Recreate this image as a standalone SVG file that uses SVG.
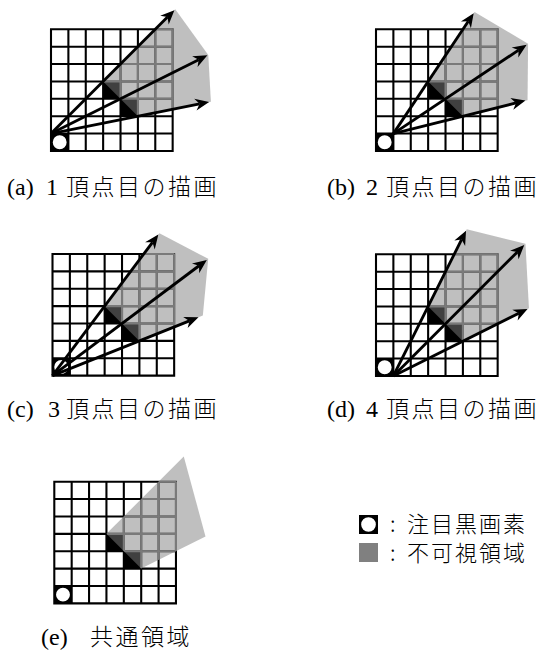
<svg xmlns="http://www.w3.org/2000/svg" xmlns:xlink="http://www.w3.org/1999/xlink" width="540" height="651" viewBox="0 0 540 651">
<style>
.cell{fill:#fff}
.grid{fill:none;stroke:#000;stroke-width:0.12;stroke-linecap:square}
.gridin{fill:none;stroke:#7a7a7a;stroke-width:0.12}
.blk{fill:#000}
.shadow{fill:#808080;fill-opacity:0.5}
.pix{fill:#fff;stroke:#000;stroke-width:0.1}
.arr{fill:none;stroke:#000;stroke-width:0.165;marker-end:url(#ah)}
.lbl{font-family:"Liberation Serif",serif;font-size:24px;fill:#000}
.jp{font-family:"Noto Sans CJK JP","Noto Sans",sans-serif;font-size:23px;font-weight:300;letter-spacing:2.5px}
.leg{font-family:"Noto Sans CJK JP","Noto Sans",sans-serif;font-size:22px;font-weight:300;fill:#000;letter-spacing:2px}
</style>
<defs>
<marker id="ah" markerUnits="strokeWidth" orient="auto" overflow="visible" refX="0" refY="0" markerWidth="1" markerHeight="1">
<path d="M3.4,0 L-1.5,-2.1 L0,0 L-1.5,2.1 Z" fill="#000"/>
</marker>
<path id="gp" d="M0,0V7M1,0V7M2,0V7M3,0V7M4,0V7M5,0V7M6,0V7M7,0V7M0,0H7M0,1H7M0,2H7M0,3H7M0,4H7M0,5H7M0,6H7M0,7H7"/>
<g id="base">
<rect class="cell" x="0" y="0" width="7" height="7"/>
<rect class="blk" x="3" y="3" width="1" height="1"/>
<rect class="blk" x="4" y="4" width="1" height="1"/>
<use xlink:href="#gp" class="grid"/>
</g>
<g id="pixel">
<rect class="blk" x="0" y="6" width="1" height="1"/>
<circle class="pix" cx="0.5" cy="6.5" r="0.45"/>
</g>
<polygon id="pa" points="3,3 7.15,-1.15 9.05,1.48 9.2,4.17 5,5"/>
<polygon id="pb" points="3,3 5.67,-1.0 8.75,0.83 8.72,4.08 5,5"/>
<polygon id="pc" points="3,3 6.15,-1.2 8.96,0.28 8.65,3.54 5,5"/>
<polygon id="pd" points="3,3 5.22,-1.44 8.6,-0.6 8.8,3.1 5,5"/>
<polygon id="pe" points="3,3 7.45,-1.45 8.7,3.15 5,5"/>
<clipPath id="ca"><use xlink:href="#pa"/></clipPath>
<clipPath id="cb"><use xlink:href="#pb"/></clipPath>
<clipPath id="cc"><use xlink:href="#pc"/></clipPath>
<clipPath id="cd"><use xlink:href="#pd"/></clipPath>
<clipPath id="ce"><use xlink:href="#pe"/></clipPath>
</defs>

<g id="panel-a" transform="translate(51,29.3) scale(17.38)">
<use xlink:href="#base"/>
<use xlink:href="#pa" class="shadow"/>
<use xlink:href="#gp" class="gridin" clip-path="url(#ca)"/>
<use xlink:href="#pixel"/>
<g id="arrows-a">
<path class="arr" d="M0,6 L6.703,-0.703"/>
<path class="arr" d="M0,6 L8.498,1.751"/>
<path class="arr" d="M0,6 L8.55,4.29"/>
</g>
</g>

<g id="panel-b" transform="translate(376,29.3) scale(17.38)">
<use xlink:href="#base"/>
<use xlink:href="#pb" class="shadow"/>
<use xlink:href="#gp" class="gridin" clip-path="url(#cb)"/>
<use xlink:href="#pixel"/>
<g id="arrows-b">
<path class="arr" d="M1,6 L5.31,-0.463"/>
<path class="arr" d="M1,6 L8.203,1.198"/>
<path class="arr" d="M1,6 L8.055,4.236"/>
</g>
</g>

<g id="panel-c" transform="translate(52.5,254) scale(17.38)">
<use xlink:href="#base"/>
<use xlink:href="#pc" class="shadow"/>
<use xlink:href="#gp" class="gridin" clip-path="url(#cc)"/>
<use xlink:href="#pixel"/>
<g id="arrows-c">
<path class="arr" d="M0,7 L5.753,-0.671"/>
<path class="arr" d="M0,7 L8.431,0.677"/>
<path class="arr" d="M0,7 L7.879,3.848"/>
</g>
</g>

<g id="panel-d" transform="translate(376,254.3) scale(17.38)">
<use xlink:href="#base"/>
<use xlink:href="#pd" class="shadow"/>
<use xlink:href="#gp" class="gridin" clip-path="url(#cd)"/>
<use xlink:href="#pixel"/>
<g id="arrows-d">
<path class="arr" d="M1,7 L4.929,-0.858"/>
<path class="arr" d="M1,7 L8.133,-0.133"/>
<path class="arr" d="M1,7 L8.218,3.391"/>
</g>
</g>

<g id="panel-e" transform="translate(54.3,481.7) scale(17.38)">
<use xlink:href="#base"/>
<use xlink:href="#pe" class="shadow"/>
<use xlink:href="#gp" class="gridin" clip-path="url(#ce)"/>
<use xlink:href="#pixel"/>
</g>

<g id="labels">
<text id="label-a" class="lbl" y="195"><tspan x="7">(a)</tspan><tspan x="46">1</tspan><tspan x="66" class="jp">頂点目の描画</tspan></text>
<text id="label-b" class="lbl" y="195"><tspan x="327">(b)</tspan><tspan x="366">2</tspan><tspan x="386" class="jp">頂点目の描画</tspan></text>
<text id="label-c" class="lbl" y="417"><tspan x="7">(c)</tspan><tspan x="48">3</tspan><tspan x="66" class="jp">頂点目の描画</tspan></text>
<text id="label-d" class="lbl" y="417"><tspan x="327">(d)</tspan><tspan x="366">4</tspan><tspan x="386" class="jp">頂点目の描画</tspan></text>
<text id="label-e" class="lbl" y="645"><tspan x="41">(e)</tspan><tspan x="90" class="jp">共通領域</tspan></text>
</g>

<g id="legend">
<g id="legend-pixel">
<rect x="359" y="515" width="19" height="19" fill="#000"/>
<circle cx="368.5" cy="524.5" r="8.2" fill="#fff" stroke="#000" stroke-width="1.7"/>
<text class="leg" x="390" y="532">:</text>
<text class="leg" x="407" y="532">注目黒画素</text>
</g>
<g id="legend-shadow">
<rect x="359" y="543" width="19" height="19" fill="#808080"/>
<text class="leg" x="390" y="561">:</text>
<text class="leg" x="407" y="561">不可視領域</text>
</g>
</g>
</svg>
